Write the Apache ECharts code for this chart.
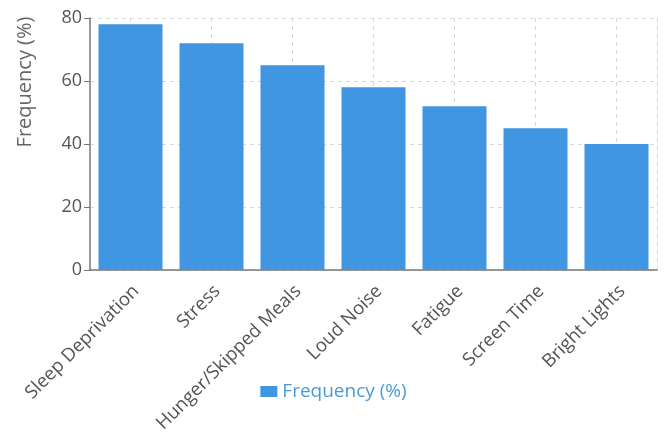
<!DOCTYPE html>
<html>
<head>
<meta charset="utf-8">
<script src="https://cdn.jsdelivr.net/npm/echarts@6/dist/echarts.min.js"></script>
<style>html,body{margin:0;padding:0;background:#fff}#c{width:667px;height:437px}</style>
</head>
<body>
<div id="c"></div>
<script>
const categories = ["Sleep Deprivation", "Stress", "Hunger/Skipped Meals", "Loud Noise", "Fatigue", "Screen Time", "Bright Lights"];
const frequency = [78, 72, 65, 58, 52, 45, 40];
const yTicks = [0, 20, 40, 60, 80];

const FONT = '"Open Sans", "Noto Sans", sans-serif';
const chart = echarts.init(document.getElementById('c'), null, {renderer: 'canvas'});
chart.setOption({
  animation: false,
  textStyle: {fontFamily: FONT},
  grid: {left: 90, right: 10, top: 18, bottom: 167},
  legend: {
    data: ['Frequency (%)'],
    top: 377,
    left: 'center',
    itemWidth: 17,
    itemHeight: 11,
    itemGap: 6,
    icon: 'rect',
    textStyle: {color: '#4a9ad8', fontSize: 19, fontFamily: FONT}
  },
  xAxis: {
    type: 'category',
    data: categories,
    axisLine: {lineStyle: {color: '#777', width: 1.5}},
    axisTick: {alignWithLabel: true, length: 6, lineStyle: {color: '#777'}},
    axisLabel: {rotate: 45, color: '#555', fontSize: 18.5, margin: 24, padding: [0, -8, 0, 0], fontFamily: FONT},
    splitLine: {show: true, alignWithLabel: true, lineStyle: {type: [4, 4], color: '#d8d8d8'}}
  },
  yAxis: [{
    type: 'value',
    min: 0, max: 80, interval: 20,
    axisLine: {show: true, lineStyle: {color: '#777', width: 1.5}},
    axisTick: {show: true, length: 6, lineStyle: {color: '#777'}},
    axisLabel: {color: '#555', fontSize: 18, margin: 8, fontFamily: FONT,
      formatter: v => yTicks.includes(v) ? String(v) : ''},
    splitLine: {show: true, lineStyle: {type: [4, 4], color: '#d8d8d8'}}
  }, {
    type: 'value',
    position: 'right',
    min: 0, max: 80, interval: 20,
    axisLine: {show: true, lineStyle: {type: [4, 4], color: '#d8d8d8'}},
    axisTick: {show: false},
    axisLabel: {show: false},
    splitLine: {show: false}
  }],
  graphic: [{
    type: 'text',
    x: 25, y: 82,
    rotation: Math.PI / 2,
    style: {text: 'Frequency (%)', fill: '#666', fontSize: 20, fontFamily: FONT,
      align: 'center', verticalAlign: 'middle'}
  }],
  series: [{
    name: 'Frequency (%)',
    type: 'bar',
    data: frequency,
    barWidth: 64,
    itemStyle: {color: '#4096e0'}
  }]
});
</script>
</body>
</html>
